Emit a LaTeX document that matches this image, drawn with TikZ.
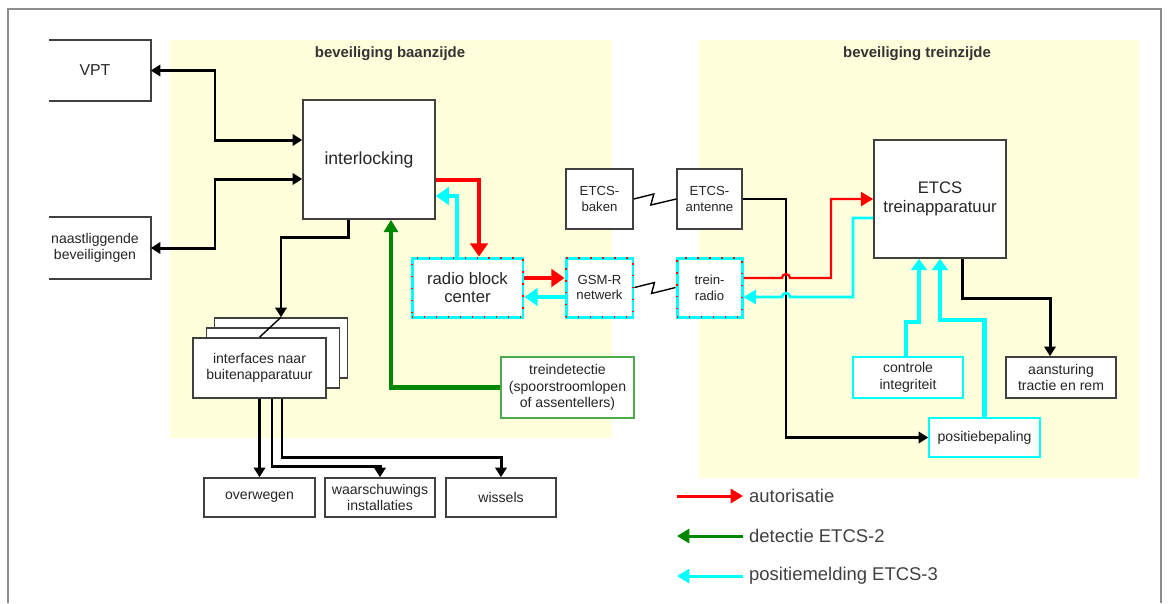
\documentclass[tikz,border=0pt]{standalone}
\usepackage{fontspec}
\setmainfont{Liberation Sans}
\usetikzlibrary{arrows.meta}
\definecolor{zonegeel}{RGB}{255,255,220}
\definecolor{donkergroen}{RGB}{0,135,0}
\definecolor{aqua}{RGB}{0,255,255}
\tikzset{
  blok/.style={draw=black!75, line width=0.9pt, fill=white, align=center, inner sep=1pt, text=black!85, font=\fontsize{8}{9.5}\selectfont},
  klein/.style={blok, font=\fontsize{7.5}{9}\selectfont},
  groot/.style={blok, font=\fontsize{9.5}{10.5}\selectfont},
  radioblok/.style={draw=aqua, line width=1.7pt, postaction={draw=red, line width=0.8pt, dash pattern=on 0.8pt off 6pt}},
  cyanblok/.style={blok, draw=aqua, line width=0.9pt},
  groenblok/.style={blok, draw=donkergroen!70, line width=0.8pt},
  zone/.style={fill=zonegeel, draw=none},
  kop/.style={font=\fontsize{8.5}{10}\selectfont\bfseries, text=black!80},
  verb/.style={draw=black, line width=1.7pt, >={Triangle[width=6.5pt,length=5.5pt]}},
  rood/.style={draw=red, line width=2.2pt, >={Triangle[width=10pt,length=7.5pt]}},
  cyaan/.style={draw=aqua, line width=2.2pt, >={Triangle[width=10pt,length=7.5pt]}},
  groen/.style={draw=donkergroen, line width=2.3pt, >={Triangle[width=8pt,length=7pt]}},
  zig/.style={draw=black, line width=0.8pt},
  legenda/.style={font=\fontsize{10.5}{12}\selectfont, text=black!75, anchor=west},
}
\begin{document}
\begin{tikzpicture}[x=0.02cm, y=-0.02cm]
\useasboundingbox (0,0) rectangle (1168,603);
\draw[black!45, line width=1pt] (8,603) -- (8,9) -- (1161,9) -- (1161,603);
\fill[zone] (170,40) rectangle (612,438);
\fill[zone] (699,40) rectangle (1139,478);
\node[kop] (kopbaan) at (390,54) {beveiliging baanzijde};
\node[kop] (koptrein) at (917,54) {beveiliging treinzijde};

\node[blok, draw=none, font=\fontsize{9}{10}\selectfont, minimum width=2.2cm, minimum height=1.18cm] (vpt) at (95,70.5) {VPT};
\draw[black!75, line width=0.9pt] ([xshift=0.2cm]vpt.north west) -| (vpt.south east) -- ([xshift=0.2cm]vpt.south west);
\node[blok, draw=none, minimum width=2.2cm, minimum height=1.2cm] (naast) at (95,248) {naastliggende\\beveiligingen};
\draw[black!75, line width=0.9pt] ([xshift=0.2cm]naast.north west) -| (naast.south east) -- ([xshift=0.2cm]naast.south west);

\node[blok, font=\fontsize{10}{11}\selectfont, minimum width=2.64cm, minimum height=2.38cm] (ilk) at (369,159.5) {interlocking};
\node[klein, minimum width=1.34cm, minimum height=1.2cm] (bak) at (599.5,199) {ETCS-\\baken};
\node[klein, minimum width=1.3cm, minimum height=1.2cm] (ant) at (709.5,199) {ETCS-\\antenne};
\node[groot, minimum width=2.64cm, minimum height=2.36cm] (etcs) at (940,199) {ETCS\\treinapparatuur};
\node[groot, radioblok, minimum width=2.22cm, minimum height=1.18cm] (rbc) at (467.5,287.5) {radio block\\center};
\node[klein, radioblok, minimum width=1.34cm, minimum height=1.18cm] (gsm) at (599.5,287.5) {GSM-R\\netwerk};
\node[klein, radioblok, minimum width=1.3cm, minimum height=1.18cm] (rad) at (709.5,287.5) {trein-\\radio};

\node[blok, minimum width=2.66cm, minimum height=1.2cm] (ifa) at (281,348) {};
\node[blok, minimum width=2.66cm, minimum height=1.2cm] (ifb) at (273,358) {};
\node[blok, minimum width=2.66cm, minimum height=1.2cm] (ifc) at (259.5,368) {interfaces naar\\buitenapparatuur};
\node[groenblok, minimum width=2.66cm, minimum height=1.22cm] (tdet) at (567.5,387.5) {treindetectie\\(spoorstroomlopen\\of assentellers)};

\node[cyanblok, minimum width=2.2cm, minimum height=0.82cm] (ctrl) at (908,377.5) {controle\\integriteit};
\node[blok, minimum width=2.2cm, minimum height=0.82cm] (aans) at (1061,377.5) {aansturing\\tractie en rem};
\node[cyanblok, minimum width=2.22cm, minimum height=0.78cm] (pos) at (984.5,437.5) {positiebepaling};

\node[blok, minimum width=2.22cm, minimum height=0.78cm] (ovw) at (259.5,497.5) {overwegen};
\node[blok, minimum width=2.2cm, minimum height=0.78cm] (waa) at (380,497.5) {waarschuwings\\installaties};
\node[blok, minimum width=2.2cm, minimum height=0.78cm] (wis) at (501,497.5) {wissels};

\draw[verb,<->] (vpt.east) -| (215,140) -- (ilk.west |- 0,140);
\draw[verb,<->] (naast.east) -| (215,179) -- (ilk.west |- 0,179);
\draw[verb,->] (ilk.south -| 348,0) |- (281,237) -- (ifa.north -| 281,0);
\draw[zig] (ifa.north -| 281,0) -- (ifc.north);
\draw[verb,->] (ifc.south) -- (ovw.north);
\draw[verb,->] (ifc.south -| 272,0) |- (380,466) -- (waa.north);
\draw[verb,->] (ifc.south -| 282,0) |- (501,457) -- (wis.north);
\draw[groen,->] (tdet.west) -| (ilk.south -| 391,0);

\draw[rood,->] (ilk.east |- 0,180) -| (rbc.north -| 479,0);
\draw[cyaan,->] (rbc.north -| 457,0) |- (ilk.east |- 0,196);
\draw[rood, line width=1.9pt, ->] (rbc.east |- 0,278) -- (gsm.west |- 0,278);
\draw[cyaan, line width=1.9pt, ->] (gsm.west |- 0,297) -- (rbc.east |- 0,297);

\draw[zig] (bak.east) -- ++(20,-5) -- ++(-3,11) -- (ant.west);
\draw[zig] (gsm.east) -- ++(20,-5) -- ++(-3,11) -- (rad.west);

\draw[verb, line width=1.5pt, ->] (ant.east) -| (pos.west -| 786,0) -- (pos.west);
\draw[rood, line width=1.3pt, >={Triangle[width=8pt,length=7pt]}, ->] (rad.east |- 0,278) -- (782,278) arc[start angle=180, end angle=0, radius=0.08cm] -- (831,278) |- (etcs.west |- 0,199);
\draw[cyaan, line width=1.5pt, >={Triangle[width=8pt,length=7pt]}, ->] (etcs.west |- 0,218) -| (853,297) -- (790,297) arc[start angle=0, end angle=180, radius=0.08cm] -- (rad.east |- 0,297);
\draw[cyaan, line width=2.4pt, >={Triangle[width=9pt,length=6.5pt]}, ->] (ctrl.north -| 906,0) |- (919,322) -- (etcs.south -| 919,0);
\draw[cyaan, line width=2.4pt, >={Triangle[width=9pt,length=6.5pt]}, ->] (pos.north) |- (940,320) -- (etcs.south -| 940,0);
\draw[verb,->] (etcs.south -| 962,0) |- (1050,298) -- (aans.north -| 1050,0);

\node[legenda] (lgrood) at (743,496) {autorisatie};
\node[legenda] (lggroen) at (743,536) {detectie ETCS-2};
\node[legenda] (lgcyaan) at (743,576) {positiemelding ETCS-3};
\coordinate (lgrs) at (677,496);
\coordinate (lggs) at (677,536);
\coordinate (lgcs) at (677,576);
\draw[rood, line width=1.7pt, >={Triangle[width=8pt,length=7pt]}, ->] (lgrs) -- (lgrood.west);
\draw[groen, line width=1.7pt, >={Triangle[width=8pt,length=7pt]}, ->] (lggroen.west) -- (lggs);
\draw[cyaan, line width=1.7pt, >={Triangle[width=8pt,length=7pt]}, ->] (lgcyaan.west) -- (lgcs);
\end{tikzpicture}
\end{document}
